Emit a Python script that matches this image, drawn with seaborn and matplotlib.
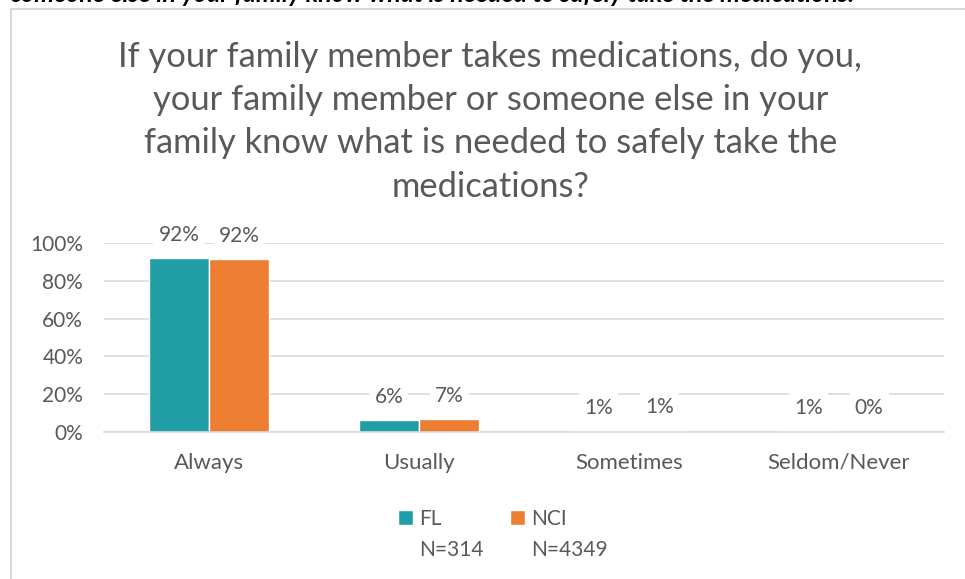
import matplotlib
matplotlib.use("Agg")
import matplotlib.pyplot as plt
import seaborn as sns
import pandas as pd
from matplotlib.patches import Rectangle

# data
categories = ["Always", "Usually", "Sometimes", "Seldom/Never"]
groups = ["FL", "NCI"]
group_n = ["N=314", "N=4349"]
fl_values = [0.92, 0.063, 0.006, 0.006]
nci_values = [0.915, 0.07, 0.007, 0.002]
y_ticks = [0, 0.2, 0.4, 0.6, 0.8, 1.0]
title = ("If your family member takes medications, do you,\n"
         "your family member or someone else in your\n"
         "family know what is needed to safely take the\n"
         "medications?")
header = "someone else in your family know what is needed to safely take the medications."

df = pd.DataFrame({
    "category": categories * 2,
    "value": fl_values + nci_values,
    "group": [groups[0]] * 4 + [groups[1]] * 4,
})

sns.set_theme(style="white")
plt.rcParams['font.family'] = ['Lato', 'DejaVu Sans']
text_col = "#595959"
grid_col = "#D9D9D9"
palette = {groups[0]: "#219DA6", groups[1]: "#ED7D31"}
fs = 15

fig = plt.figure(figsize=(9.65, 5.79), dpi=100)
ax = fig.add_axes([104 / 965, 1 - 432 / 579, 840 / 965, 189 / 579])

sns.barplot(data=df, x="category", y="value", hue="group", palette=palette,
            width=0.575, gap=0, saturation=1, ax=ax, legend=True)

ax.set_ylim(0, 1)
ax.set_xlim(-0.5, 3.5)
ax.set_yticks(y_ticks)
ax.set_yticklabels([f"{int(t * 100)}%" for t in y_ticks])
ax.yaxis.grid(True, color=grid_col, linewidth=1.2)
ax.set_axisbelow(True)
for s in ["top", "right", "left"]:
    ax.spines[s].set_visible(False)
ax.spines["bottom"].set_color(grid_col)
ax.spines["bottom"].set_linewidth(1.2)
ax.tick_params(axis="both", length=0, labelsize=fs, labelcolor=text_col, pad=15)
ax.tick_params(axis="x", labelsize=16)
ax.set_xlabel("")
ax.set_ylabel("")

# data labels
for cont in ax.containers:
    for bar in cont:
        h = bar.get_height()
        ax.text(bar.get_x() + bar.get_width() / 2, h + 0.07, f"{h:.0%}",
                ha="center", va="bottom", fontsize=fs, color=text_col,
                clip_on=False,
                bbox=dict(boxstyle="square,pad=0.25", fc="white", ec="none"))

handles, labels = ax.get_legend_handles_labels()
ax.get_legend().remove()
leg = fig.legend(handles, labels, loc="upper center",
                 bbox_to_anchor=(0.5, 1 - 490 / 579),
                 ncol=2, frameon=False, fontsize=fs, labelcolor=text_col,
                 handlelength=0.7, handleheight=0.7, handletextpad=0.3,
                 columnspacing=3.3)

# sample sizes under each legend label
fig.canvas.draw()
inv = fig.transFigure.inverted()
for txt, n in zip(leg.get_texts(), group_n):
    bb = txt.get_window_extent()
    x0, y0 = inv.transform((bb.x0, bb.y0))
    fig.text(x0, y0 - 31 / 579, n, ha="left", va="bottom", fontsize=fs,
             color=text_col)

fig.text(0.508, 1 - 41 / 579, title, ha="center", va="top", fontsize=24.8,
         color=text_col, linespacing=1.43)

# chart border (Excel-like frame)
fig.patches.append(Rectangle((11 / 965, -0.1), 1.1, 1 + 0.1 - 9 / 579,
                             transform=fig.transFigure, fill=False,
                             ec=grid_col, lw=1.5, clip_on=False))

# cut-off heading from the page above
fig.text(11 / 965, 1 - 2 / 579, header, ha="left", va="baseline", fontsize=18,
         fontweight="bold", fontstyle="italic", color="black")

fig.savefig("out.png", dpi=100, facecolor="white")
